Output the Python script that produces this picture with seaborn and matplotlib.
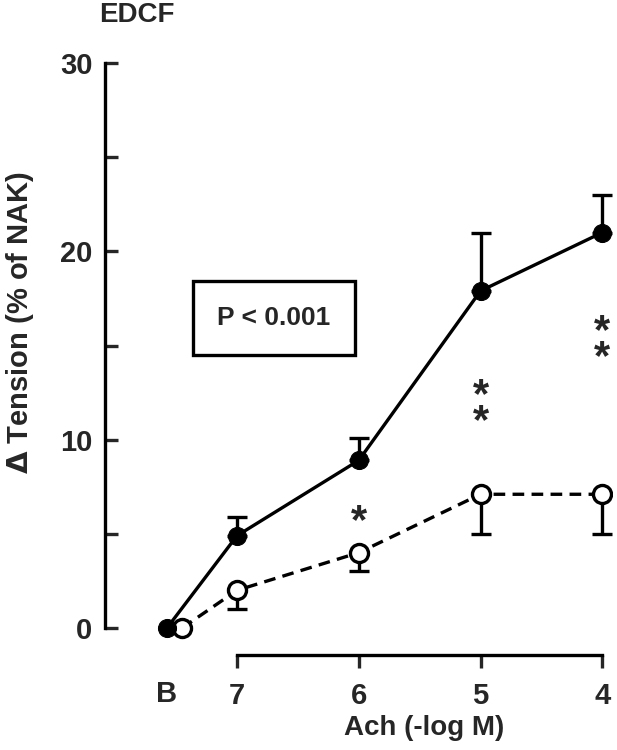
import matplotlib
matplotlib.use("Agg")
import matplotlib.pyplot as plt
import seaborn as sns
import pandas as pd
from matplotlib.patches import Rectangle

sns.set_style("ticks")
plt.rcParams['font.family'] = ['Liberation Sans', 'DejaVu Sans']
plt.rcParams['font.weight'] = 'bold'

# dados (Ach em -log M; B = basal)
tick_labels = ['7', '6', '5', '4']
conc = [7.575, 7, 6, 5, 4]
conc_open = [7.45, 7, 6, 5, 4]
filled_mean = [0, 4.9, 8.9, 17.9, 21.0]
filled_err = [0, 1.0, 1.2, 3.1, 2.0]
open_mean = [0, 2.0, 4.0, 7.1, 7.1]
open_err = [0, 1.0, 1.0, 2.1, 2.1]
star_x = [6, 5, 4]
star_txt = ['*', '*\n*', '*\n*']
star_y = [5.6, 11.6, 15.0]

df = pd.DataFrame({'x': conc + conc_open,
                   'y': filled_mean + open_mean,
                   'grupo': ['cheio'] * 5 + ['aberto'] * 5})

fig = plt.figure(figsize=(6.17, 7.5), dpi=100)
ax = fig.add_axes([0.170, 0.1376, 0.822, 0.7909])

lw = 2.4
# barras de erro unilaterais
ax.errorbar(conc[1:], filled_mean[1:], yerr=[[0] * 4, filled_err[1:]], fmt='none',
            ecolor='black', elinewidth=lw, capsize=7, capthick=lw, zorder=2)
ax.errorbar(conc_open[1:], open_mean[1:], yerr=[open_err[1:], [0] * 4], fmt='none',
            ecolor='black', elinewidth=lw, capsize=7, capthick=lw, zorder=2)

sns.lineplot(data=df[df.grupo == 'cheio'], x='x', y='y', ax=ax, color='black',
             lw=lw, marker='o', markersize=13, markerfacecolor='black',
             markeredgecolor='black', zorder=4, sort=False)
sns.lineplot(data=df[df.grupo == 'aberto'], x='x', y='y', ax=ax, color='black',
             lw=lw, linestyle=(0, (3.5, 2.2)), marker='o', markersize=13,
             markerfacecolor='white', markeredgecolor='black', markeredgewidth=lw,
             zorder=3, sort=False)

for sx, sy, st in zip(star_x, star_y, star_txt):
    ax.text(sx, sy, st, ha='center', va='center', fontsize=30, fontweight='bold',
            linespacing=0.55)

# caixa P < 0.001
ax.add_patch(Rectangle((7.362, 14.5), -1.332, 3.9, fill=False, lw=2.4,
                       edgecolor='black', zorder=5))
ax.text(6.696, 16.45, 'P < 0.001', ha='center', va='center', fontsize=19,
        fontweight='bold')

ax.set_xlim(8.085, 3.92)
ax.set_ylim(-1, 30.5)
ax.set_xticks(conc[1:])
ax.set_xticklabels(tick_labels)
ax.set_yticks([0, 10, 20, 30])
ax.set_yticks([5, 15, 25], minor=True)

sns.despine(ax=ax)
ax.spines['left'].set_bounds(0, 30)
ax.spines['bottom'].set_bounds(7, 4)
ax.spines['bottom'].set_position(('outward', 6))
for s in ['left', 'bottom']:
    ax.spines[s].set_linewidth(2.4)
    ax.spines[s].set_color('black')

ax.tick_params(axis='y', which='both', direction='in', length=9, width=2.4,
               labelsize=21, pad=9)
ax.tick_params(axis='x', direction='out', length=9, width=2.4, labelsize=21, pad=10)

# rótulo B sem marca de tick
ax.text(conc[0], -0.079, 'B', transform=ax.get_xaxis_transform(), ha='center',
        va='center', fontsize=21, fontweight='bold')

ax.set_xlabel('Ach (-log M)', fontsize=20, fontweight='bold')
ax.set_ylabel(r'$\Delta$ Tension (% of NAK)', fontsize=21, fontweight='bold')
ax.xaxis.set_label_coords(0.63, -0.115)
ax.yaxis.set_label_coords(-0.135, 0.547)

fig.text(0.222, 0.997, 'EDCF', ha='center', va='top', fontsize=20, fontweight='bold')

fig.savefig('out.png', dpi=100)
